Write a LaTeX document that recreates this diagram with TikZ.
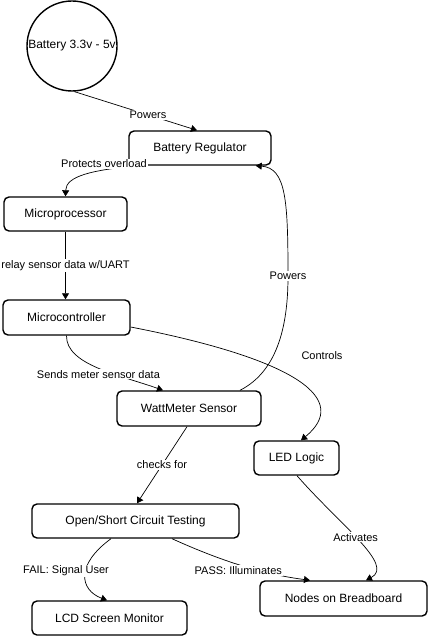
\documentclass[tikz,border=0pt]{standalone}
\usepackage{fontspec}
\setmainfont{Liberation Sans}
\usepackage{tikz}
\usetikzlibrary{calc,arrows.meta,positioning}
\tikzset{
block_item/.style={rectangle, rounded corners=5pt, draw, line width=1.4pt, fill=white, anchor=center, minimum height=34pt, inner sep=0pt, font=\fontsize{12}{14}\selectfont},
power_cell/.style={circle, draw, line width=1.4pt, minimum size=90pt, inner sep=0pt, font=\fontsize{12}{14}\selectfont},
link/.style={-{Triangle[length=6pt,width=7pt]}, line width=0.7pt},
edge_label/.style={fill=white, inner sep=1pt, font=\fontsize{11}{13}\selectfont},
plain_label/.style={inner sep=1pt, font=\fontsize{11}{13}\selectfont}
}

\begin{document}
\begin{tikzpicture}[x=1pt, y=-1pt]
    \useasboundingbox (0,0) rectangle (428,636);
    \node[power_cell] (battery) at (72,46) {Battery 3.3v - 5v};
    \node[block_item, minimum width=142pt] (regulator) at (200,148) {Battery Regulator};
    \node[block_item, minimum width=123pt] (mproc) at (65.5,214) {Microprocessor};
    \node[block_item, minimum width=127pt, minimum height=35pt] (mctrl) at (66.5,317.5) {Microcontroller};
    \node[block_item, minimum width=144pt, minimum height=35pt] (wattmeter) at (189,408.5) {WattMeter Sensor};
    \node[block_item, minimum width=85pt] (led) at (296.5,458) {LED Logic};
    \node[block_item, minimum width=207pt] (testing) at (135.5,521) {Open/Short Circuit Testing};
    \node[block_item, minimum width=155pt] (lcd) at (109.5,618) {LCD Screen Monitor};
    \node[block_item, minimum width=167pt, minimum height=35pt] (breadboard) at (343.5,598.5) {Nodes on Breadboard};
    \node[plain_label] (controls_text) at (322,356) {Controls};

    \draw[link] (battery.-87) -- ($(regulator.north)+(-3,0)$)
        node[edge_label, pos=0.6] {Powers};
    \draw[link] ($(regulator.south west)+(10,0)$) .. controls (92,170) and (66,176) .. (mproc.north);
    \node[edge_label] (protect_text) at (104,164) {Protects overload};
    \draw[link] (mproc.south) -- (mproc.south |- mctrl.north)
        node[edge_label, midway] {relay sensor data w/UART};
    \draw[link] (mctrl.south) .. controls (66,365) and (120,375) .. ($(wattmeter.north)+(-26,0)$)
        node[edge_label, pos=0.5, yshift=-6pt] {Sends meter sensor data};
    \draw[link] ($(mctrl.east)+(0,9.5)$) .. controls (300,360) and (350,400) .. ($(led.north)+(4.5,0)$);
    \draw[link] ($(wattmeter.north)+(51,0)$) .. controls (280,370) and (288,320) .. (288,276)
        node[edge_label] {Powers}
        .. controls (288,200) and (286,168) .. ($(regulator.south east)+(-16,0)$);
    \draw[link] ($(wattmeter.south)+(-2,0)$) -- ($(testing.north)+(1.5,0)$)
        node[edge_label, midway] {checks for};
    \draw[link] ($(led.south)+(0.5,0)$) .. controls (340,525) and (395,565) .. ($(breadboard.north)+(22.5,0)$)
        node[edge_label, pos=0.47] {Activates};
    \draw[link] ($(testing.south)+(-24.5,0)$) .. controls (75,565) and (80,590) .. ($(lcd.north)+(-2.5,0)$);
    \node[edge_label] (fail_text) at (66,571) {FAIL: Signal User};
    \draw[link] ($(testing.south)+(36.5,0)$) .. controls (230,565) and (270,575) .. ($(breadboard.north)+(-33.5,0)$)
        node[edge_label, pos=0.43, yshift=-6pt] {PASS: Illuminates};
\end{tikzpicture}
\end{document}
